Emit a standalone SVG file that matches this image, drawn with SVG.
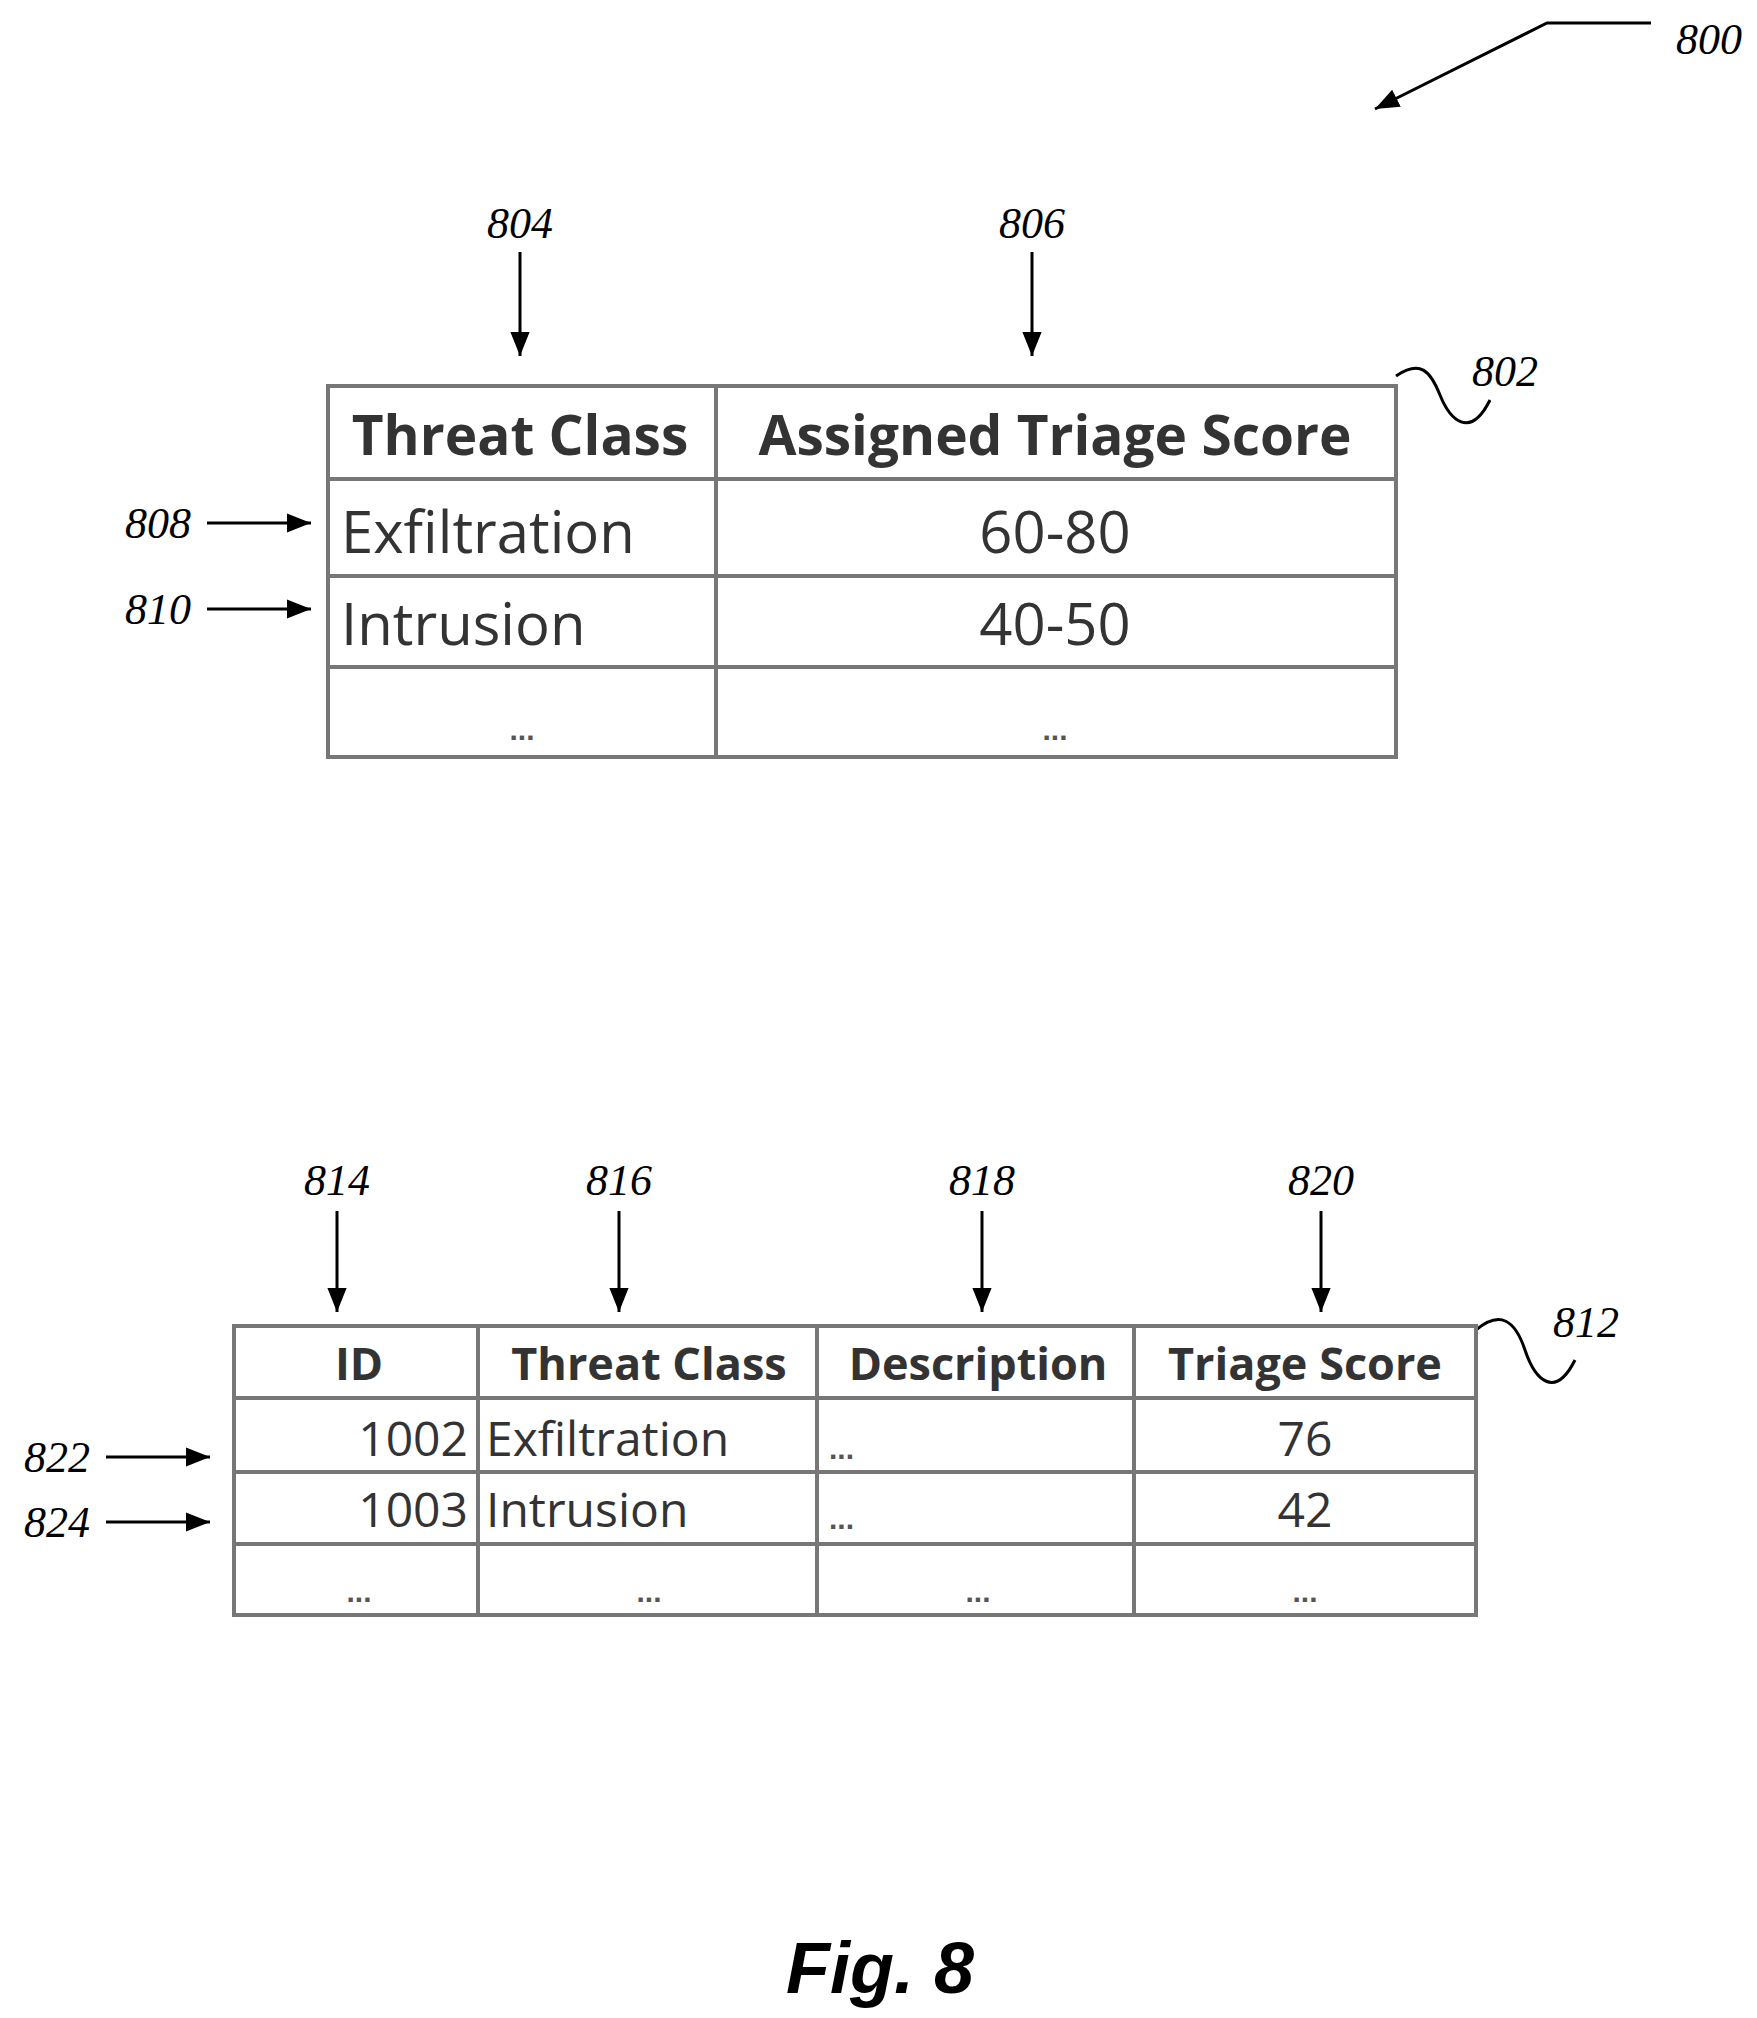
<svg xmlns="http://www.w3.org/2000/svg" width="1757" height="2018" viewBox="0 0 1757 2018">
<style>
.lbl{font-family:"Liberation Serif",serif;font-style:italic;font-size:44px;fill:#000}
.t1{font-family:"Open Sans","Liberation Sans",sans-serif;font-size:58px;fill:#333}
.t1b{font-family:"Open Sans","Liberation Sans",sans-serif;font-size:55px;font-weight:bold;fill:#333}
.t2{font-family:"Open Sans","Liberation Sans",sans-serif;font-size:48px;fill:#333}
.t2b{font-family:"Open Sans","Liberation Sans",sans-serif;font-size:45px;font-weight:bold;fill:#333}
.dots{font-family:"Liberation Sans",sans-serif;font-size:30px;font-weight:bold;fill:#555}
.grid{fill:none;stroke:#777;stroke-width:4}
.ln{fill:none;stroke:#000;stroke-width:3}
</style>
<defs>
<marker id="a" viewBox="0 0 10 10" refX="10" refY="5" markerWidth="24" markerHeight="24" orient="auto" markerUnits="userSpaceOnUse"><path d="M0,1 L10,5 L0,9 z" fill="#000"/></marker></defs>
<g id="connectors">
<path class="ln" d="M1651,23 L1547,23 L1375,109" marker-end="url(#a)"/>
<path class="ln" d="M520,252 V356" marker-end="url(#a)"/>
<path class="ln" d="M1032,252 V356" marker-end="url(#a)"/>
<path class="ln" d="M207,523 H311" marker-end="url(#a)"/>
<path class="ln" d="M207,609 H311" marker-end="url(#a)"/>
<path class="ln" d="M1396,376 C1420,360 1430,370 1440,395 C1450,420 1470,440 1490,400"/>
<path class="ln" d="M337,1211 V1312" marker-end="url(#a)"/>
<path class="ln" d="M619,1211 V1312" marker-end="url(#a)"/>
<path class="ln" d="M982,1211 V1312" marker-end="url(#a)"/>
<path class="ln" d="M1321,1211 V1312" marker-end="url(#a)"/>
<path class="ln" d="M106,1457 H210" marker-end="url(#a)"/>
<path class="ln" d="M106,1522 H210" marker-end="url(#a)"/>
<path class="ln" d="M1476,1330 C1500,1310 1515,1320 1525,1350 C1535,1380 1555,1400 1575,1360"/>
</g>
<g id="labels">
<text class="lbl" x="1709" y="54" text-anchor="middle">800</text>
<text class="lbl" x="520" y="238" text-anchor="middle">804</text>
<text class="lbl" x="1032" y="238" text-anchor="middle">806</text>
<text class="lbl" x="1505" y="386" text-anchor="middle">802</text>
<text class="lbl" x="158" y="538" text-anchor="middle">808</text>
<text class="lbl" x="158" y="624" text-anchor="middle">810</text>
<text class="lbl" x="337" y="1195" text-anchor="middle">814</text>
<text class="lbl" x="619" y="1195" text-anchor="middle">816</text>
<text class="lbl" x="982" y="1195" text-anchor="middle">818</text>
<text class="lbl" x="1321" y="1195" text-anchor="middle">820</text>
<text class="lbl" x="1586" y="1337" text-anchor="middle">812</text>
<text class="lbl" x="57" y="1472" text-anchor="middle">822</text>
<text class="lbl" x="57" y="1537" text-anchor="middle">824</text>
</g>
<g id="table802">
<rect class="grid" x="328" y="386" width="1068" height="371"/>
<path class="grid" d="M716,386 V757 M328,479 H1396 M328,576 H1396 M328,667 H1396"/>
<text class="t1b" x="520" y="455" text-anchor="middle">Threat Class</text>
<text class="t1b" x="1055" y="455" text-anchor="middle">Assigned Triage Score</text>
<text class="t1" x="341" y="553">Exfiltration</text>
<text class="t1" x="1055" y="553" text-anchor="middle">60-80</text>
<text class="t1" x="341" y="645">Intrusion</text>
<text class="t1" x="1055" y="645" text-anchor="middle">40-50</text>
<text class="dots" x="522" y="740" text-anchor="middle">...</text>
<text class="dots" x="1055" y="740" text-anchor="middle">...</text>
</g>
<g id="table812">
<rect class="grid" x="234" y="1326" width="1242" height="289"/>
<path class="grid" d="M478,1326 V1615 M817,1326 V1615 M1134,1326 V1615 M234,1398 H1476 M234,1472 H1476 M234,1544 H1476"/>
<text class="t2b" x="359" y="1380" text-anchor="middle">ID</text>
<text class="t2b" x="649" y="1380" text-anchor="middle">Threat Class</text>
<text class="t2b" x="978" y="1380" text-anchor="middle">Description</text>
<text class="t2b" x="1305" y="1380" text-anchor="middle">Triage Score</text>
<text class="t2" x="468" y="1456" text-anchor="end">1002</text>
<text class="t2" x="486" y="1456">Exfiltration</text>
<text class="dots" x="829" y="1459">...</text>
<text class="t2" x="1305" y="1456" text-anchor="middle">76</text>
<text class="t2" x="468" y="1527" text-anchor="end">1003</text>
<text class="t2" x="486" y="1527">Intrusion</text>
<text class="dots" x="829" y="1529">...</text>
<text class="t2" x="1305" y="1527" text-anchor="middle">42</text>
<text class="dots" x="359" y="1602" text-anchor="middle">...</text>
<text class="dots" x="649" y="1602" text-anchor="middle">...</text>
<text class="dots" x="978" y="1602" text-anchor="middle">...</text>
<text class="dots" x="1305" y="1602" text-anchor="middle">...</text>
</g>
<text x="880" y="1993" text-anchor="middle" style="font-family:'Liberation Sans',sans-serif;font-weight:bold;font-style:italic;font-size:72px">Fig. 8</text>
</svg>
